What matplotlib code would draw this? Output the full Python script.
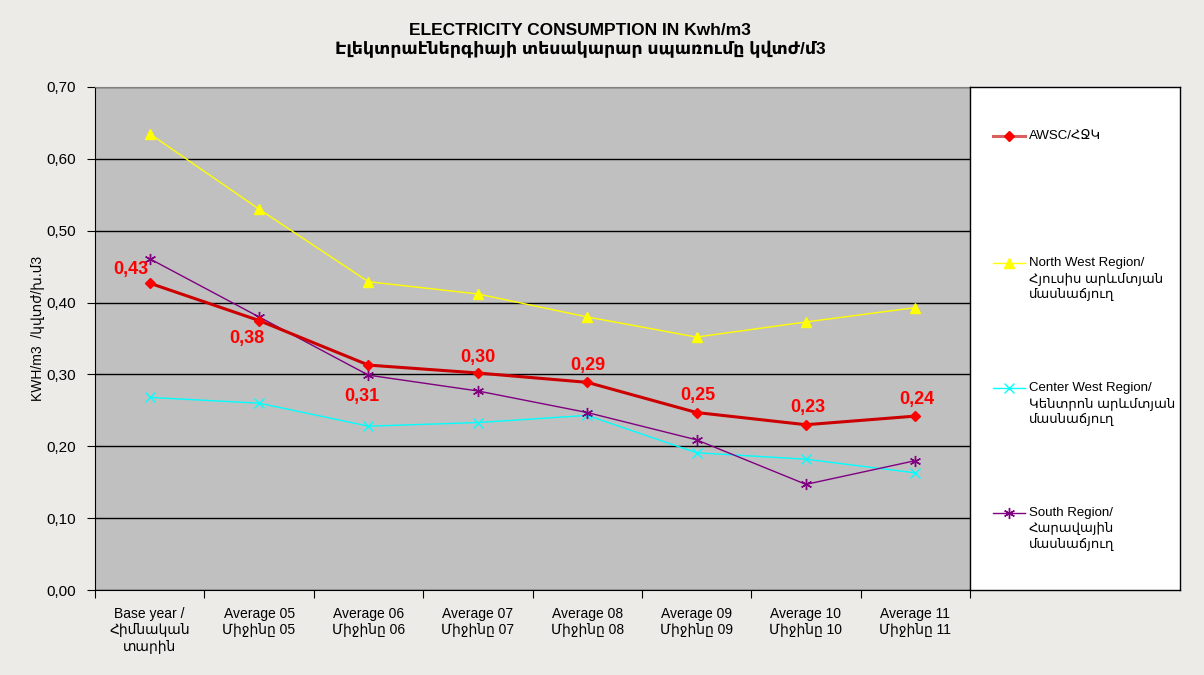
import matplotlib
matplotlib.use("Agg")
import matplotlib.pyplot as plt
from matplotlib.lines import Line2D
from matplotlib.ticker import FuncFormatter, MultipleLocator
import numpy as np

plt.rcParams["font.family"] = ["Liberation Sans", "DejaVu Sans"]

categories = [
    "Base year /\nՀիմնական\nտարին",
    "Average 05\nՄիջինը 05",
    "Average 06\nՄիջինը 06",
    "Average 07\nՄիջինը 07",
    "Average 08\nՄիջինը 08",
    "Average 09\nՄիջինը 09",
    "Average 10\nՄիջինը 10",
    "Average 11\nՄիջինը 11",
]
awsc = [0.427, 0.375, 0.313, 0.302, 0.289, 0.247, 0.230, 0.242]
north_west = [0.635, 0.530, 0.429, 0.412, 0.380, 0.352, 0.373, 0.393]
center_west = [0.268, 0.260, 0.228, 0.233, 0.243, 0.191, 0.182, 0.163]
south = [0.461, 0.380, 0.299, 0.277, 0.247, 0.209, 0.147, 0.180]
awsc_labels = ["0,43", "0,38", "0,31", "0,30", "0,29", "0,25", "0,23", "0,24"]

series_names = [
    "AWSC/ՀՋԿ",
    "North West Region/\nՀյուսիս արևմտյան\nմասնաճյուղ",
    "Center West Region/\nԿենտրոն արևմտյան\nմասնաճյուղ",
    "South Region/\nՀարավային\nմասնաճյուղ",
]

W, H = 1204, 675
fig = plt.figure(figsize=(W / 100, H / 100), dpi=100)
fig.patch.set_facecolor("#ecebe8")

# plot area (pixel box -> figure fraction)
x0, x1, y0, y1 = 95, 970, 87, 590
ax = fig.add_axes([x0 / W, 1 - y1 / H, (x1 - x0) / W, (y1 - y0) / H])
ax.set_facecolor("#c0c0c0")

styles = [
    dict(color="#cc0000", lw=2.2, marker="D", ms=5.5, mfc="#ff0000", mec="#ff0000"),
    dict(color="#ffff00", lw=1.0, marker="^", ms=7, mfc="#ffff00", mec="#ffff00"),
    dict(color="#00ffff", lw=1.0, marker="x", ms=7, mew=1.0),
    dict(color="#800080", lw=1.0, marker=(6, 2, 0), ms=8, mew=1.0),
]

x = np.arange(len(categories))
ax.plot(x, north_west, zorder=3, **styles[1])
ax.plot(x, center_west, zorder=3, **styles[2])
ax.plot(x, south, zorder=3, **styles[3])
ax.plot(x, awsc, zorder=4, **styles[0])

# data labels for AWSC (offsets in pixels)
offsets = [(-19, 14), (-12, -18), (-7, -31), (0, 15), (1, 17), (1, 17), (2, 17), (2, 17)]
for i, (lab, off) in enumerate(zip(awsc_labels, offsets)):
    ax.annotate(lab, (x[i], awsc[i]), xytext=off, textcoords="offset pixels",
                ha="center", va="center", color="#ff0000", fontsize=13,
                fontweight="bold", zorder=5)

ax.set_xlim(-0.5, len(categories) - 0.5)
ax.set_ylim(0, 0.70)
ax.yaxis.set_major_locator(MultipleLocator(0.1))
ax.yaxis.set_major_formatter(FuncFormatter(lambda v, p: f"{v:.2f}".replace(".", ",")))
ax.grid(axis="y", color="#000000", lw=1.0)
ax.set_axisbelow(True)

# category ticks between groups, labels centred
ax.set_xticks(np.arange(len(categories) + 1) - 0.5)
ax.set_xticklabels([])
ax.set_xticks(x, minor=True)
ax.set_xticklabels(categories, minor=True, fontsize=10, linespacing=1.25)
ax.tick_params(axis="x", which="major", length=6, direction="out", color="#000000")
ax.tick_params(axis="x", which="minor", length=0, pad=12)
ax.tick_params(axis="y", length=6, direction="out", labelsize=11, pad=8)

for side in ["top", "right"]:
    ax.spines[side].set_color("#808080")
ax.spines["left"].set_color("#000000")
ax.spines["bottom"].set_color("#000000")

ax.set_ylabel("KWH/m3  /կվտժ/խ.մ3", fontsize=10)
ax.yaxis.set_label_coords(-0.057, 0.52)

# legend box
lax = fig.add_axes([x1 / W, 1 - y1 / H, (1180 - x1) / W, (y1 - y0) / H])
lax.set_facecolor("#ffffff")
lax.set_xticks([])
lax.set_yticks([])
for s in lax.spines.values():
    s.set_color("#000000")
    s.set_linewidth(1.0)
lax.set_xlim(0, 1)
lax.set_ylim(0, 1)

leg_y = [136, 263, 388, 513]
for name, st, py in zip(series_names, styles, leg_y):
    yy = 1 - (py - y0) / (y1 - y0)
    line_kw = {k: v for k, v in st.items() if not k.startswith("m")}
    mark_kw = {k: v for k, v in st.items() if k.startswith("m") or k == "color"}
    if line_kw["lw"] > 2:
        line_kw["color"] = "#d96060"
    lax.add_line(Line2D([0.11, 0.26], [yy, yy], **line_kw))
    lax.plot([0.185], [yy], linestyle="none", **mark_kw)
    lax.text(0.28, yy + 0.012, name, ha="left", va="top", fontsize=9.5, linespacing=1.3)

fig.text(0.482, 0.94, "ELECTRICITY CONSUMPTION IN Kwh/m3\nԷլեկտրաէներգիայի տեսակարար սպառումը կվտժ/մ3",
         ha="center", va="center", fontsize=12.5, fontweight="bold", linespacing=1.15)

fig.savefig("out.png", dpi=100, facecolor=fig.get_facecolor())
